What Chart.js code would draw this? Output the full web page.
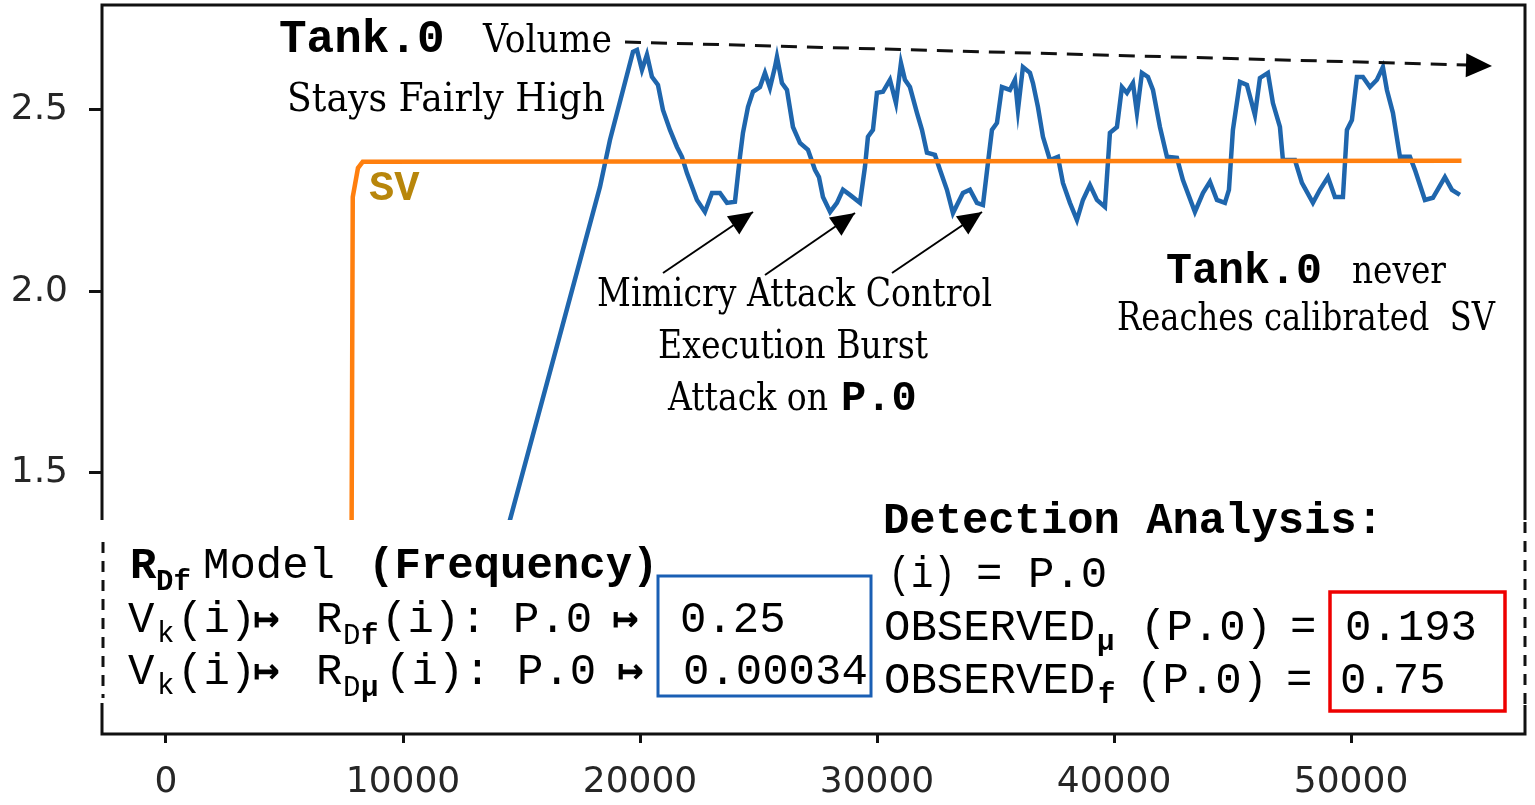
<!DOCTYPE html>
<html>
<head>
<meta charset="utf-8">
<script src="https://cdn.jsdelivr.net/npm/chart.js@4.4.1/dist/chart.umd.min.js"></script>
<style>
  html, body { margin: 0; padding: 0; background: #fff; }
  #wrap { width: 1535px; height: 805px; position: relative; }
</style>
</head>
<body>
<div id="wrap"><canvas id="chart"></canvas></div>
<script>
// Tank.0 volume (blue)
const volumeX = [8840, 14513, 18310, 18732, 19703, 19872, 20082, 20293, 20504, 20757, 20968, 21264, 21559, 21770, 21981,
  22403, 22740, 23036, 23373, 23669, 24006, 24217, 24344, 24555, 24766, 25061, 25272, 25483, 25694, 25778, 25989,
  26200, 26453, 26748, 27086, 27381, 27550, 27719, 28023, 28309, 28563, 28858, 29280, 29491, 29617, 29828, 29997,
  30250, 30546, 30799, 31010, 31178, 31389, 31685, 31896, 32107, 32444, 32655, 32950, 33204, 33626, 33921, 34216,
  34469, 34680, 34849, 35060, 35271, 35608, 35819, 35946, 36157, 36452, 36579, 36790, 37001, 37296, 37633, 37844,
  38140, 38435, 38688, 38984, 39279, 39616, 39827, 40123, 40334, 40545, 40798, 40966, 41177, 41431, 41642, 41937,
  42232, 42654, 42907, 43413, 43751, 44046, 44342, 44679, 44848, 45016, 45312, 45607, 45945, 46156, 46493, 46704,
  47000, 47126, 47632, 47928, 48392, 48687, 49025, 49320, 49658, 49827, 50037, 50248, 50501, 50797, 51092, 51345,
  51514, 51767, 52063, 52485, 52696, 53117, 53455, 53961, 54257, 54594];
const volumeY = [0, 1.371, 2.288, 2.417, 2.660, 2.665, 2.610, 2.652, 2.591, 2.569, 2.500, 2.445, 2.398, 2.371, 2.326,
  2.252, 2.219, 2.271, 2.271, 2.244, 2.247, 2.371, 2.437, 2.508, 2.550, 2.563, 2.602, 2.561, 2.618, 2.646, 2.574,
  2.555, 2.453, 2.409, 2.390, 2.335, 2.315, 2.260, 2.219, 2.244, 2.280, 2.266, 2.244, 2.343, 2.426, 2.445, 2.547,
  2.550, 2.583, 2.519, 2.629, 2.583, 2.563, 2.492, 2.445, 2.382, 2.376, 2.335, 2.280, 2.216, 2.271, 2.280, 2.244,
  2.238, 2.354, 2.445, 2.464, 2.563, 2.555, 2.583, 2.500, 2.618, 2.602, 2.574, 2.508, 2.426, 2.362, 2.371, 2.299,
  2.244, 2.197, 2.252, 2.293, 2.252, 2.233, 2.437, 2.453, 2.563, 2.547, 2.574, 2.492, 2.602, 2.591, 2.555, 2.453,
  2.371, 2.368, 2.307, 2.219, 2.271, 2.302, 2.252, 2.244, 2.280, 2.445, 2.577, 2.569, 2.486, 2.588, 2.602, 2.519,
  2.453, 2.362, 2.362, 2.299, 2.244, 2.280, 2.315, 2.260, 2.260, 2.445, 2.472, 2.591, 2.591, 2.563, 2.583, 2.618,
  2.555, 2.492, 2.371, 2.371, 2.335, 2.252, 2.258, 2.315, 2.280, 2.266];

// set value SV (orange)
const svX = [0, 7760, 7880, 8100, 8300, 54660];
const svY = [0, 0, 2.26, 2.34, 2.357, 2.36];

const xTicks = [0, 10000, 20000, 30000, 40000, 50000];
const yTicks = [1.5, 2.0, 2.5];

const MONO = "'Courier New', 'Liberation Mono', monospace";
const SERIF = "'DejaVu Serif', 'Liberation Serif', serif";

function txt(ctx, s, x, y, font, color, maxW) {
  ctx.font = font;
  ctx.fillStyle = color || '#000';
  ctx.textAlign = 'left';
  ctx.textBaseline = 'alphabetic';
  if (maxW) ctx.fillText(s, x, y, maxW); else ctx.fillText(s, x, y);
}

function arrowHead(ctx, x1, y1, x2, y2, len, w) {
  const a = Math.atan2(y2 - y1, x2 - x1);
  ctx.beginPath();
  ctx.moveTo(x2, y2);
  ctx.lineTo(x2 - len * Math.cos(a) + w / 2 * Math.sin(a), y2 - len * Math.sin(a) - w / 2 * Math.cos(a));
  ctx.lineTo(x2 - len * Math.cos(a) - w / 2 * Math.sin(a), y2 - len * Math.sin(a) + w / 2 * Math.cos(a));
  ctx.closePath();
  ctx.fill();
}

function arrow(ctx, x1, y1, x2, y2) {
  ctx.save();
  ctx.strokeStyle = '#000';
  ctx.fillStyle = '#000';
  ctx.lineWidth = 2;
  ctx.beginPath();
  ctx.moveTo(x1, y1);
  ctx.lineTo(x2, y2);
  ctx.stroke();
  arrowHead(ctx, x1, y1, x2, y2, 24, 22);
  ctx.restore();
}

// overlay box, frame and all the annotation text
const annotations = {
  id: 'annotations',
  afterDatasetsDraw(chart) {
    const ctx = chart.ctx;
    const a = chart.chartArea;
    ctx.save();

    // white info panel over the lower part of the plot
    ctx.fillStyle = '#fff';
    ctx.fillRect(a.left - 3, 520, a.right - a.left + 8, a.bottom - 520 - 1);

    // frame
    ctx.strokeStyle = '#111';
    ctx.lineWidth = 3;
    ctx.beginPath();
    ctx.moveTo(a.left - 1.5, a.top); ctx.lineTo(a.right + 1.5, a.top);
    ctx.moveTo(a.left, a.top); ctx.lineTo(a.left, 520);
    ctx.moveTo(a.left, 703); ctx.lineTo(a.left, a.bottom);
    ctx.moveTo(a.right, a.top); ctx.lineTo(a.right, 520);
    ctx.moveTo(a.right, 705); ctx.lineTo(a.right, a.bottom);
    ctx.moveTo(a.left - 1.5, a.bottom); ctx.lineTo(a.right + 1.5, a.bottom);
    ctx.stroke();
    ctx.setLineDash([11, 8]);
    ctx.lineWidth = 3;
    ctx.beginPath();
    ctx.moveTo(a.left + 1, 542); ctx.lineTo(a.left + 1, 698);
    ctx.moveTo(a.right, 522); ctx.lineTo(a.right, 705);
    ctx.stroke();

    // dashed trend arrow
    ctx.setLineDash([16, 10]);
    ctx.beginPath();
    ctx.moveTo(625, 42); ctx.lineTo(1468, 65);
    ctx.stroke();
    ctx.setLineDash([]);
    ctx.fillStyle = '#000';
    arrowHead(ctx, 625, 43, 1492, 66, 26, 24);

    // attack arrows
    arrow(ctx, 663, 273, 753, 212);
    arrow(ctx, 765, 275, 855, 213);
    arrow(ctx, 892, 273, 982, 212);

    // top-left annotation
    txt(ctx, 'Tank.0', 279, 52, 'bold 46px ' + MONO, '#000', 171);
    txt(ctx, 'Volume', 483, 52, '40px ' + SERIF, '#000', 129);
    txt(ctx, 'Stays Fairly High', 287, 111, '40px ' + SERIF, '#000', 318);
    txt(ctx, 'SV', 369, 200, 'bold 42px ' + MONO, '#b8860b', 56);

    // attack annotation
    txt(ctx, 'Mimicry Attack Control', 597, 306, '40px ' + SERIF, '#000', 395);
    txt(ctx, 'Execution Burst', 658, 358, '40px ' + SERIF, '#000', 270);
    txt(ctx, 'Attack on', 668, 410, '40px ' + SERIF, '#000', 160);
    txt(ctx, 'P.0', 841, 410, 'bold 42px ' + MONO, '#000', 76);

    // right annotation
    txt(ctx, 'Tank.0', 1166, 283, 'bold 44px ' + MONO, '#000', 156);
    txt(ctx, 'never', 1352, 283, '40px ' + SERIF, '#000', 94);
    txt(ctx, 'Reaches calibrated  SV', 1117, 330, '40px ' + SERIF, '#000', 378);

    // left info block
    const M = '44px ' + MONO, MB = 'bold 44px ' + MONO;
    const S = '29px ' + MONO, SB = 'bold 29px ' + MONO;
    const ARR = 'bold 44px ' + MONO;
    txt(ctx, 'R', 130, 578, MB);
    txt(ctx, 'Df', 156, 590, SB);
    txt(ctx, 'Model', 203, 578, M);
    txt(ctx, '(Frequency)', 368, 578, MB);

    txt(ctx, 'V', 128, 632, M);
    txt(ctx, 'k', 157, 642, S);
    txt(ctx, '(i)', 177, 632, M);
    txt(ctx, '\u21A6', 253, 632, ARR);
    txt(ctx, 'R', 316, 632, M);
    txt(ctx, 'D', 343, 644, S);
    txt(ctx, 'f', 361, 644, SB);
    txt(ctx, '(i): P.0', 381, 632, M);
    txt(ctx, '\u21A6', 612, 632, ARR);
    txt(ctx, '0.25', 680, 632, M);

    txt(ctx, 'V', 128, 684, M);
    txt(ctx, 'k', 157, 694, S);
    txt(ctx, '(i)', 177, 684, M);
    txt(ctx, '\u21A6', 253, 684, ARR);
    txt(ctx, 'R', 316, 684, M);
    txt(ctx, 'D', 343, 696, S);
    txt(ctx, '\u03BC', 361, 696, SB);
    txt(ctx, '(i): P.0', 385, 684, M);
    txt(ctx, '\u21A6', 617, 684, ARR);
    txt(ctx, '0.00034', 683, 684, M, '#000', 185);

    ctx.strokeStyle = '#1a5fb4';
    ctx.lineWidth = 3;
    ctx.strokeRect(658, 576, 213, 120);

    // right info block
    txt(ctx, 'Detection Analysis:', 883, 533, MB, '#000', 500);
    txt(ctx, '(i)', 888, 587, M, '#000', 68);
    txt(ctx, '=', 976, 587, M);
    txt(ctx, 'P.0', 1028, 587, M);
    txt(ctx, 'OBSERVED', 884, 640, M, '#000', 214);
    txt(ctx, '\u03BC', 1097, 650, SB);
    txt(ctx, '(P.0)', 1140, 640, M);
    txt(ctx, '=', 1290, 640, M);
    txt(ctx, '0.193', 1345, 640, M);
    txt(ctx, 'OBSERVED', 884, 693, M, '#000', 214);
    txt(ctx, 'f', 1098, 703, SB);
    txt(ctx, '(P.0)', 1136, 693, M);
    txt(ctx, '=', 1286, 693, M);
    txt(ctx, '0.75', 1340, 693, M);

    ctx.strokeStyle = '#ee0000';
    ctx.lineWidth = 3.5;
    ctx.strokeRect(1330, 592, 175, 119);

    ctx.restore();
  }
};

const ctx = document.getElementById('chart').getContext('2d');
new Chart(ctx, {
  type: 'line',
  data: {
    datasets: [
      {
        label: 'SV',
        data: svX.map((x, i) => ({ x, y: svY[i] })),
        borderColor: '#ff7f0e',
        borderWidth: 4.5,
        pointRadius: 0,
        tension: 0
      },
      {
        label: 'Tank.0',
        data: volumeX.map((x, i) => ({ x, y: volumeY[i] })),
        borderColor: '#1f66ad',
        borderWidth: 4.5,
        pointRadius: 0,
        tension: 0
      }
    ]
  },
  options: {
    responsive: true,
    maintainAspectRatio: false,
    animation: false,
    layout: { autoPadding: false, padding: { top: 5, right: 10, left: 0, bottom: 0 } },
    plugins: { legend: { display: false }, tooltip: { enabled: false } },
    scales: {
      x: {
        type: 'linear',
        min: -2700,
        max: 57340,
        afterBuildTicks: s => { s.ticks = xTicks.map(v => ({ value: v })); },
        afterFit: s => { s.height = 71; s.paddingLeft = 0; s.paddingRight = 0; },
        grid: { display: true, drawOnChartArea: false, drawTicks: true, tickLength: 9, tickWidth: 3, tickColor: '#111' },
        border: { display: false },
        ticks: {
          padding: 18,
          maxRotation: 0,
          autoSkip: false,
          color: '#262626',
          font: { family: 'DejaVu Sans', size: 36 },
          callback: v => String(v)
        }
      },
      y: {
        min: 0.781,
        max: 2.789,
        afterBuildTicks: s => { s.ticks = yTicks.map(v => ({ value: v })); },
        afterFit: s => { s.width = 102; s.paddingTop = 0; s.paddingBottom = 0; },
        grid: { display: true, drawOnChartArea: false, drawTicks: true, tickLength: 13, tickWidth: 3, tickColor: '#111' },
        border: { display: false },
        ticks: {
          padding: 21,
          autoSkip: false,
          color: '#262626',
          font: { family: 'DejaVu Sans', size: 36 },
          callback: v => v.toFixed(1)
        }
      }
    }
  },
  plugins: [annotations]
});
</script>
</body>
</html>
